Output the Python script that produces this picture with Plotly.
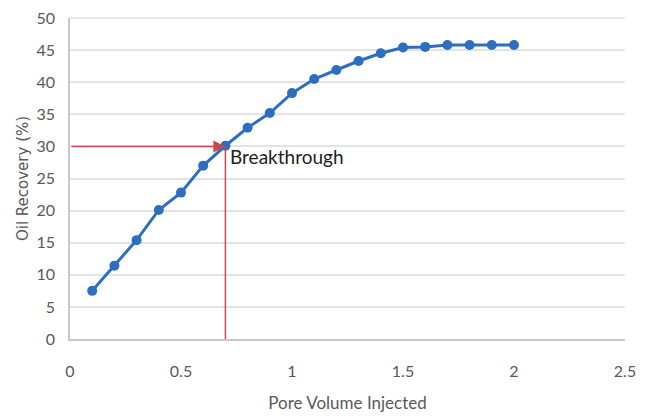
import plotly.graph_objects as go

pore_volume = [0.1, 0.2, 0.3, 0.4, 0.5, 0.6, 0.7, 0.8, 0.9, 1.0,
               1.1, 1.2, 1.3, 1.4, 1.5, 1.6, 1.7, 1.8, 1.9, 2.0]
oil_recovery = [7.5, 11.4, 15.4, 20.1, 22.8, 27.0, 30.1, 32.9, 35.2, 38.3,
                40.5, 41.9, 43.3, 44.5, 45.4, 45.5, 45.8, 45.8, 45.8, 45.8]

breakthrough_pv = 0.7
breakthrough_recovery = 30.0
breakthrough_label = "Breakthrough"

x_ticks = [0, 0.5, 1, 1.5, 2, 2.5]
x_tick_labels = ["0", "0.5", "1", "1.5", "2", "2.5"]
y_ticks = [0, 5, 10, 15, 20, 25, 30, 35, 40, 45, 50]

blue = "#2E6EC0"
red = "#D0474A"
tick_color = "#595959"
grid_color = "#E3E3E3"
tick_font = "Lato, Open Sans, sans-serif"

fig = go.Figure()

fig.add_trace(go.Scatter(
    x=pore_volume, y=oil_recovery,
    mode="lines+markers",
    line=dict(color=blue, width=3),
    marker=dict(color=blue, size=10),
    showlegend=False,
    cliponaxis=False,
))

# top gridline (plot frame edge)
fig.add_shape(
    type="line", xref="paper", yref="paper",
    x0=0, x1=1, y0=1, y1=1,
    line=dict(color=grid_color, width=1.5),
    layer="below",
)

# vertical red line at breakthrough
fig.add_shape(
    type="line", xref="x", yref="y",
    x0=breakthrough_pv, x1=breakthrough_pv, y0=0, y1=breakthrough_recovery,
    line=dict(color=red, width=1.5),
)

# horizontal red arrow from y-axis to breakthrough point
fig.add_annotation(
    x=breakthrough_pv, y=breakthrough_recovery,
    ax=0, ay=breakthrough_recovery,
    xref="x", yref="y", axref="x", ayref="y",
    text="", showarrow=True,
    arrowhead=2, arrowsize=1.6, arrowwidth=1.5, arrowcolor=red,
    standoff=0, startstandoff=0,
)

fig.add_annotation(
    x=breakthrough_pv, y=breakthrough_recovery,
    xref="x", yref="y",
    text=breakthrough_label, showarrow=False,
    xanchor="left", yanchor="middle",
    xshift=3, yshift=-10,
    font=dict(family="Lato, Open Sans, sans-serif", size=19, color="#222222"),
)

fig.update_xaxes(
    range=[0, 2.5],
    tickvals=x_ticks, ticktext=x_tick_labels,
    showgrid=False, zeroline=False,
    showline=True, linecolor="#C8C8C8", linewidth=1.5,
    ticks="outside", ticklen=17, tickcolor="rgba(0,0,0,0)",
    tickfont=dict(family=tick_font, size=16, color=tick_color),
    automargin=False, ticklabeloverflow="allow",
    title=dict(text="Pore Volume Injected", standoff=18,
               font=dict(family=tick_font, size=17, color=tick_color)),
)

fig.update_yaxes(
    range=[0, 50],
    tickvals=y_ticks,
    showgrid=True, gridcolor=grid_color, gridwidth=1.5,
    zeroline=False,
    showline=True, linecolor="#C8C8C8", linewidth=1.5,
    ticks="outside", ticklen=10, tickcolor="rgba(0,0,0,0)",
    tickfont=dict(family=tick_font, size=16, color=tick_color),
    automargin=False, ticklabeloverflow="allow",
    title=dict(text="Oil Recovery (%)", standoff=4,
               font=dict(family="DejaVu Sans, sans-serif", size=15, color=tick_color)),
)

# page body has an 8px default margin; size figure to fit the 647x417 window
fig.update_layout(
    width=639, height=409,
    margin=dict(l=62, r=22, t=10, b=78),
    paper_bgcolor="white", plot_bgcolor="white",
)

fig.write_html("out.html")
